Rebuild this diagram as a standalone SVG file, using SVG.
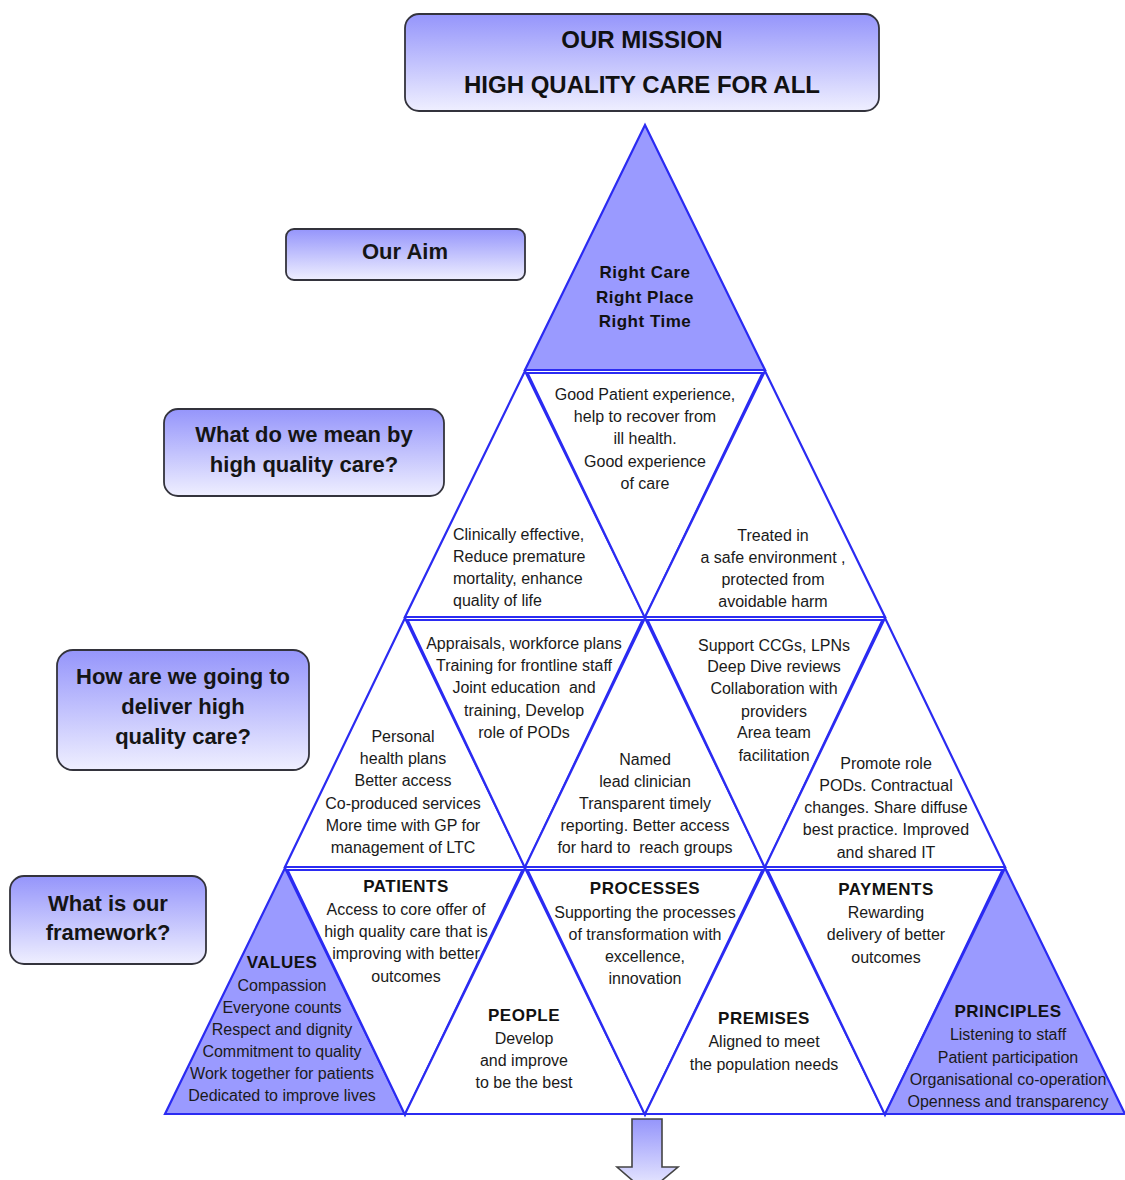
<svg xmlns="http://www.w3.org/2000/svg" width="1125" height="1180" viewBox="0 0 1125 1180">
  <defs>
    <linearGradient id="boxFill" x1="0" y1="0" x2="0" y2="1">
      <stop offset="0" stop-color="#9595fb"/>
      <stop offset="1" stop-color="#efefff"/>
    </linearGradient>
    <style>
      .box { fill: url(#boxFill); stroke: #33333c; stroke-width: 1.8; }
      .tri { fill: #ffffff; stroke: #2b2bf2; stroke-width: 2.2; stroke-linejoin: miter; }
      .tri.shade { fill: #9a9aff; }
      .q { font-family: "Liberation Sans", Arial, sans-serif; font-size: 22px; font-weight: bold; fill: #151515; text-anchor: middle; }
      .m { font-family: "Liberation Sans", Arial, sans-serif; font-size: 24px; font-weight: bold; fill: #111; text-anchor: middle; }
      .h { font-family: "Liberation Sans", Arial, sans-serif; font-size: 17px; font-weight: bold; letter-spacing: 0.5px; fill: #111; text-anchor: middle; }
      .t { font-family: "Liberation Sans", Arial, sans-serif; font-size: 16px; fill: #1a1a1a; text-anchor: middle; white-space: pre; }
      .l { text-anchor: start; }
      .arrow { fill: url(#boxFill); stroke: #444; stroke-width: 1.6; }
    </style>
  </defs>

  <rect width="1125" height="1180" fill="#ffffff"/>

  <!-- Mission banner -->
  <g id="mission">
    <rect class="box" x="405" y="14" width="474" height="97" rx="14"/>
    <text class="m" x="642" y="48">OUR MISSION</text>
    <text class="m" x="642" y="93">HIGH QUALITY CARE FOR ALL</text>
  </g>

  <!-- Question labels down the left side -->
  <g id="label-aim">
    <rect class="box" x="286" y="229" width="239" height="51" rx="8"/>
    <text class="q" x="405" y="259">Our Aim</text>
  </g>
  <g id="label-meaning">
    <rect class="box" x="164" y="409" width="280" height="87" rx="14"/>
    <text class="q" x="304" y="442">What do we mean by</text>
    <text class="q" x="304" y="472">high quality care?</text>
  </g>
  <g id="label-delivery">
    <rect class="box" x="57" y="650" width="252" height="120" rx="16"/>
    <text class="q" x="183" y="684">How are we going to</text>
    <text class="q" x="183" y="714">deliver high</text>
    <text class="q" x="183" y="744">quality care?</text>
  </g>
  <g id="label-framework">
    <rect class="box" x="10" y="876" width="196" height="88" rx="14"/>
    <text class="q" x="108" y="911">What is our</text>
    <text class="q" x="108" y="940">framework?</text>
  </g>

  <!-- Row 1: aim -->
  <g id="aim">
    <polygon class="tri shade" points="645,125 525,370 765,370"/>
    <text class="h" x="645" y="278">Right Care</text>
    <text class="h" x="645" y="303">Right Place</text>
    <text class="h" x="645" y="327">Right Time</text>
  </g>

  <!-- Row 2: meaning of high quality care -->
  <g id="effective">
    <polygon class="tri" points="525,371 405,617 645,617"/>
    <text class="t l" x="453" y="540">Clinically effective,</text>
    <text class="t l" x="453" y="562">Reduce premature</text>
    <text class="t l" x="453" y="584">mortality, enhance</text>
    <text class="t l" x="453" y="606">quality of life</text>
  </g>
  <g id="experience">
    <polygon class="tri" points="527.5,373 762.5,373 645,618"/>
    <text class="t" x="645" y="400">Good Patient experience,</text>
    <text class="t" x="645" y="422">help to recover from</text>
    <text class="t" x="645" y="444">ill health.</text>
    <text class="t" x="645" y="467">Good experience</text>
    <text class="t" x="645" y="489">of care</text>
  </g>
  <g id="safety">
    <polygon class="tri" points="765,371 645,617 885,617"/>
    <text class="t" x="773" y="541">Treated in</text>
    <text class="t" x="773" y="563">a safe environment ,</text>
    <text class="t" x="773" y="585">protected from</text>
    <text class="t" x="773" y="607">avoidable harm</text>
  </g>

  <!-- Row 3: delivery -->
  <g id="personal-care">
    <polygon class="tri" points="405,618 285,867 525,867"/>
    <text class="t" x="403" y="742">Personal</text>
    <text class="t" x="403" y="764">health plans</text>
    <text class="t" x="403" y="786">Better access</text>
    <text class="t" x="403" y="809">Co-produced services</text>
    <text class="t" x="403" y="831">More time with GP for</text>
    <text class="t" x="403" y="853">management of LTC</text>
  </g>
  <g id="workforce">
    <polygon class="tri" points="407.5,620 642.5,620 525,868"/>
    <text class="t" x="524" y="649">Appraisals, workforce plans</text>
    <text class="t" x="524" y="671">Training for frontline staff</text>
    <text class="t" x="524" y="693">Joint education  and</text>
    <text class="t" x="524" y="716">training, Develop</text>
    <text class="t" x="524" y="738">role of PODs</text>
  </g>
  <g id="clinician">
    <polygon class="tri" points="645,618 525,867 765,867"/>
    <text class="t" x="645" y="765">Named</text>
    <text class="t" x="645" y="787">lead clinician</text>
    <text class="t" x="645" y="809">Transparent timely</text>
    <text class="t" x="645" y="831">reporting. Better access</text>
    <text class="t" x="645" y="853">for hard to  reach groups</text>
  </g>
  <g id="commissioning">
    <polygon class="tri" points="647.5,620 882.5,620 765,868"/>
    <text class="t" x="774" y="651">Support CCGs, LPNs</text>
    <text class="t" x="774" y="672">Deep Dive reviews</text>
    <text class="t" x="774" y="694">Collaboration with</text>
    <text class="t" x="774" y="717">providers</text>
    <text class="t" x="774" y="738">Area team</text>
    <text class="t" x="774" y="761">facilitation</text>
  </g>
  <g id="contracts">
    <polygon class="tri" points="885,618 765,867 1005,867"/>
    <text class="t" x="886" y="769">Promote role</text>
    <text class="t" x="886" y="791">PODs. Contractual</text>
    <text class="t" x="886" y="813">changes. Share diffuse</text>
    <text class="t" x="886" y="835">best practice. Improved</text>
    <text class="t" x="886" y="858">and shared IT</text>
  </g>

  <!-- Row 4: framework -->
  <g id="values">
    <polygon class="tri shade" points="285,868 165,1114 405,1114"/>
    <text class="h" x="282" y="968">VALUES</text>
    <text class="t" x="282" y="991">Compassion</text>
    <text class="t" x="282" y="1013">Everyone counts</text>
    <text class="t" x="282" y="1035">Respect and dignity</text>
    <text class="t" x="282" y="1057">Commitment to quality</text>
    <text class="t" x="282" y="1079">Work together for patients</text>
    <text class="t" x="282" y="1101">Dedicated to improve lives</text>
  </g>
  <g id="patients">
    <polygon class="tri" points="287.5,870 522.5,870 405,1115"/>
    <text class="h" x="406" y="892">PATIENTS</text>
    <text class="t" x="406" y="915">Access to core offer of</text>
    <text class="t" x="406" y="937">high quality care that is</text>
    <text class="t" x="406" y="959">improving with better</text>
    <text class="t" x="406" y="982">outcomes</text>
  </g>
  <g id="people">
    <polygon class="tri" points="525,868 405,1114 645,1114"/>
    <text class="h" x="524" y="1021">PEOPLE</text>
    <text class="t" x="524" y="1044">Develop</text>
    <text class="t" x="524" y="1066">and improve</text>
    <text class="t" x="524" y="1088">to be the best</text>
  </g>
  <g id="processes">
    <polygon class="tri" points="527.5,870 762.5,870 645,1115"/>
    <text class="h" x="645" y="894">PROCESSES</text>
    <text class="t" x="645" y="918">Supporting the processes</text>
    <text class="t" x="645" y="940">of transformation with</text>
    <text class="t" x="645" y="962">excellence,</text>
    <text class="t" x="645" y="984">innovation</text>
  </g>
  <g id="premises">
    <polygon class="tri" points="765,868 645,1114 885,1114"/>
    <text class="h" x="764" y="1024">PREMISES</text>
    <text class="t" x="764" y="1047">Aligned to meet</text>
    <text class="t" x="764" y="1070">the population needs</text>
  </g>
  <g id="payments">
    <polygon class="tri" points="767.5,870 1002.5,870 885,1115"/>
    <text class="h" x="886" y="895">PAYMENTS</text>
    <text class="t" x="886" y="918">Rewarding</text>
    <text class="t" x="886" y="940">delivery of better</text>
    <text class="t" x="886" y="963">outcomes</text>
  </g>
  <g id="principles">
    <polygon class="tri shade" points="1005,868 885,1114 1125,1114"/>
    <text class="h" x="1008" y="1017">PRINCIPLES</text>
    <text class="t" x="1008" y="1040">Listening to staff</text>
    <text class="t" x="1008" y="1063">Patient participation</text>
    <text class="t" x="1008" y="1085">Organisational co-operation</text>
    <text class="t" x="1008" y="1107">Openness and transparency</text>
  </g>

  <!-- Block arrow leading out of the base -->
  <g id="connectors">
    <polygon class="arrow" points="632,1119 662,1119 662,1167 678,1167 647,1193 617,1167 632,1167"/>
  </g>
</svg>
